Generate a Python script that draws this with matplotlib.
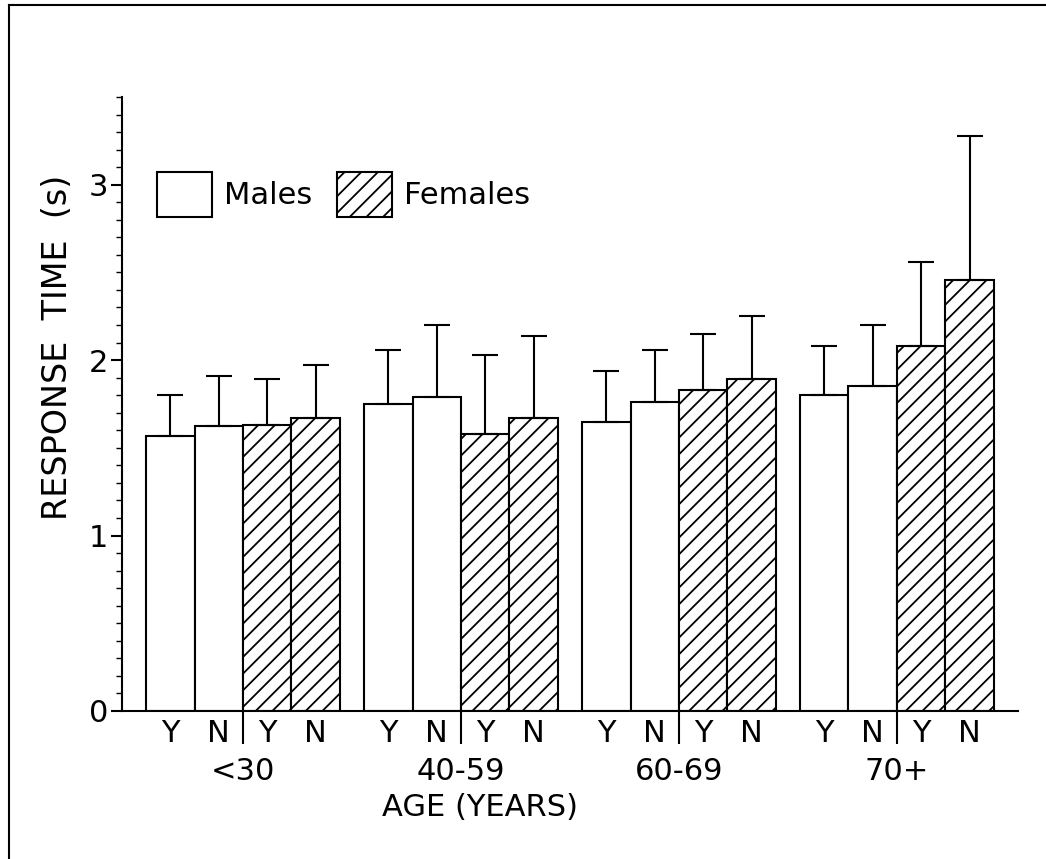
import numpy as np
import matplotlib
matplotlib.use("Agg")
import matplotlib.pyplot as plt
from matplotlib.lines import Line2D
from matplotlib.patches import Patch

# data
age_groups = ["<30", "40-59", "60-69", "70+"]
sub_labels = ["Y", "N", "Y", "N"]
males_y = [1.57, 1.75, 1.645, 1.80]
males_n = [1.625, 1.79, 1.76, 1.855]
females_y = [1.63, 1.58, 1.83, 2.08]
females_n = [1.67, 1.67, 1.89, 2.457]
males_y_sd = [0.23, 0.31, 0.295, 0.28]
males_n_sd = [0.285, 0.41, 0.30, 0.345]
females_y_sd = [0.26, 0.45, 0.32, 0.48]
females_n_sd = [0.30, 0.47, 0.36, 0.82]

plt.rcParams["font.family"] = "DejaVu Sans"
plt.rcParams["hatch.linewidth"] = 1.3
fs = 22

fig = plt.figure(figsize=(10.46, 8.59), dpi=100)
ax = fig.add_axes([0.1166, 0.1723, 0.8566, 0.7148])

group_step = 4.5
g0 = np.arange(len(age_groups)) * group_step
series = [
    (males_y, males_y_sd, 0, ""),
    (males_n, males_n_sd, 1, ""),
    (females_y, females_y_sd, 2, "//"),
    (females_n, females_n_sd, 3, "//"),
]
for vals, sd, off, hatch in series:
    x = g0 + off
    ax.bar(x, vals, width=1.0, align="edge", color="white", edgecolor="black",
           linewidth=1.5, hatch=hatch, zorder=2)
    ax.errorbar(x + 0.5, vals, yerr=[np.zeros(len(vals)), sd], fmt="none",
                ecolor="black", elinewidth=1.5, capsize=9.5, capthick=1.5, zorder=3)

ax.set_xlim(-0.5, 18)
ax.set_ylim(0, 3.5)

# Y / N labels under bars
centers = np.concatenate([g + np.arange(4) + 0.5 for g in g0])
ax.set_xticks(centers)
ax.set_xticklabels(sub_labels * len(age_groups), fontsize=fs)
ax.tick_params(axis="x", which="major", length=0, pad=6)
# dividers between males and females, carrying the age group labels
ax.set_xticks(g0 + 2, minor=True)
ax.set_xticklabels(age_groups, minor=True, fontsize=fs)
ax.tick_params(axis="x", which="minor", length=24, width=1.5, pad=9, direction="out")

ax.set_yticks([0, 1, 2, 3])
ax.set_yticks(np.arange(0, 3.51, 0.1), minor=True)
ax.set_yticklabels(["0", "1", "2", "3"], fontsize=fs)
ax.tick_params(axis="y", which="major", length=8, width=1.5, pad=2)
ax.tick_params(axis="y", which="minor", length=4, width=1.0)

for s in ["top", "right"]:
    ax.spines[s].set_visible(False)
for s in ["left", "bottom"]:
    ax.spines[s].set_linewidth(1.5)

# legend
handles = [
    Patch(facecolor="white", edgecolor="black", linewidth=1.5, label="Males"),
    Patch(facecolor="white", edgecolor="black", linewidth=1.5, hatch="//", label="Females"),
]
ax.legend(handles=handles, loc="upper left", bbox_to_anchor=(0.039, 0.878),
          ncol=2, frameon=False, fontsize=fs, handlelength=1.8, handleheight=1.9,
          handletextpad=0.4, columnspacing=0.8, borderpad=0, borderaxespad=0)

# axis titles
fig.text(0.055, 1 - 347 / 859, "RESPONSE  TIME  (s)", rotation=90, fontsize=24,
         ha="center", va="center")
fig.text(480 / 1046, 1 - 808 / 859, "AGE (YEARS)", fontsize=fs, ha="center", va="center")

# page frame lines
fig.add_artist(Line2D([9 / 1046, 1], [1 - 5 / 859, 1 - 5 / 859], color="black", lw=1.5))
fig.add_artist(Line2D([9 / 1046, 9 / 1046], [0, 1 - 5 / 859], color="black", lw=1.5))

fig.savefig("out.png", dpi=100)
